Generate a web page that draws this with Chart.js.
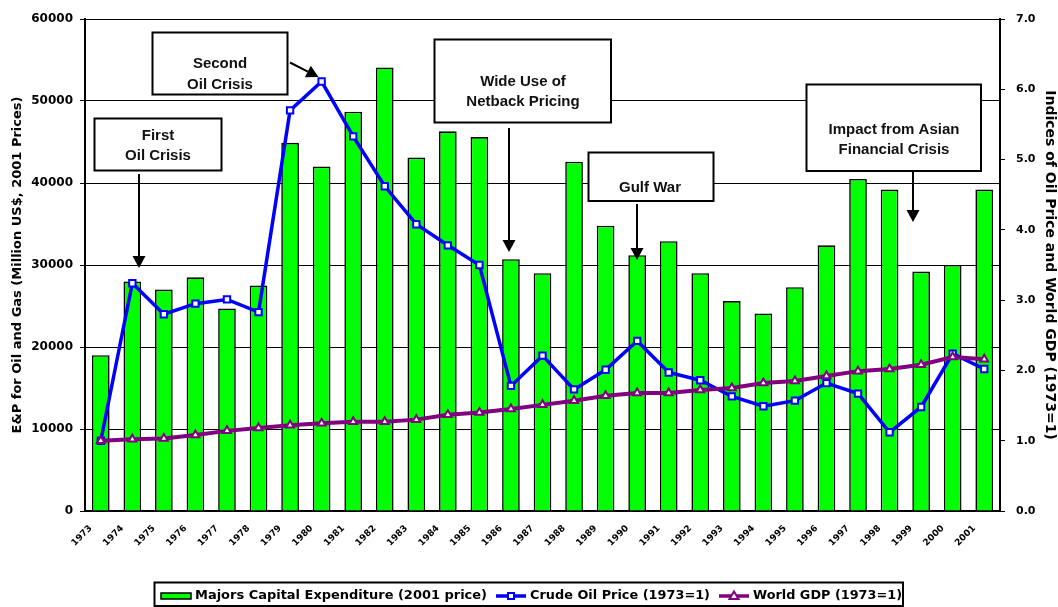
<!DOCTYPE html>
<html>
<head>
<meta charset="utf-8">
<script src="https://cdn.jsdelivr.net/npm/chart.js@4.4.1/dist/chart.umd.min.js"></script>
<style>
html,body{margin:0;padding:0;background:#ffffff;}
#c{display:block;}
</style>
</head>
<body>
<canvas id="c" width="1058" height="607"></canvas>
<script>
// ---------------- DATA ----------------
const years = ['1973','1974','1975','1976','1977','1978','1979','1980','1981','1982','1983','1984','1985','1986','1987','1988','1989','1990','1991','1992','1993','1994','1995','1996','1997','1998','1999','2000','2001'];
const capex = [19000,28000,27000,28500,24700,27500,44900,42000,48700,54100,43100,46300,45600,30700,29000,42600,34800,31200,32900,29000,25600,24100,27300,32400,40500,39200,29200,30000,39200];
const oilPrice = [1.00,3.24,2.80,2.95,3.01,2.83,5.70,6.11,5.33,4.62,4.08,3.78,3.50,1.78,2.21,1.73,2.01,2.42,1.97,1.86,1.63,1.49,1.57,1.82,1.67,1.12,1.48,2.24,2.02];
const worldGdp = [1.00,1.02,1.03,1.08,1.14,1.18,1.22,1.25,1.27,1.27,1.30,1.37,1.40,1.45,1.51,1.57,1.64,1.68,1.68,1.72,1.75,1.82,1.85,1.92,1.99,2.02,2.08,2.19,2.16];
const seriesNames = ['Majors Capital Expenditure (2001 price)','Crude Oil Price (1973=1)','World GDP (1973=1)'];
const leftTitle = 'E&P for Oil and Gas (Million US$, 2001 Prices)';
const rightTitle = 'Indices of Oil Price and World GDP (1973=1)';
const annotationTexts = [['First','Oil Crisis'],['Second','Oil Crisis'],['Wide Use of','Netback Pricing'],['Gulf War'],['Impact from Asian','Financial Crisis']];

// ---------------- LAYOUT (pixels) ----------------
const annotationLayout = [
  {box:[94.5,118.5,221.5,170.5], cx:158, ys:[136,155.5], arrow:[139,174,139,268]},
  {box:[152.5,32.5,287.5,94.5], cx:220, ys:[64,85], arrow:[290,62.5,318.5,77]},
  {box:[434.5,39.5,611,122.5], cx:523, ys:[82,102], arrow:[509,128,509,252]},
  {box:[588.5,152.5,713.5,201], cx:650, ys:[188], arrow:[637,204,637,260]},
  {box:[806.5,84.5,981,171], cx:894, ys:[130,149.5], arrow:[913,171,913,222]}
];

const GREEN = '#00FF00', BLUE = '#0000FF', PURPLE = '#800080';
const AXFONT = 'DejaVu Sans';

function drawArrow(ctx, x1, y1, x2, y2) {
  const dx = x2 - x1, dy = y2 - y1, len = Math.hypot(dx, dy);
  const ux = dx / len, uy = dy / len;
  const hl = 12, hw = 6.5;
  const bx = x2 - ux * hl, by = y2 - uy * hl;
  ctx.beginPath();
  ctx.moveTo(x1, y1);
  ctx.lineTo(bx, by);
  ctx.strokeStyle = '#000';
  ctx.lineWidth = 2;
  ctx.stroke();
  ctx.beginPath();
  ctx.moveTo(x2, y2);
  ctx.lineTo(bx - uy * hw, by + ux * hw);
  ctx.lineTo(bx + uy * hw, by - ux * hw);
  ctx.closePath();
  ctx.fillStyle = '#000';
  ctx.fill();
}

const annotationPlugin = {
  id: 'annots',
  afterDraw(chart) {
    const ctx = chart.ctx;
    ctx.save();
    annotationLayout.forEach((a, i) => {
      const [x1, y1, x2, y2] = a.box;
      ctx.fillStyle = '#fff';
      ctx.fillRect(x1, y1, x2 - x1, y2 - y1);
      ctx.strokeStyle = '#000';
      ctx.lineWidth = 2;
      ctx.strokeRect(x1, y1, x2 - x1, y2 - y1);
      ctx.fillStyle = '#111';
      ctx.font = 'bold 15px "Liberation Sans", Arial, sans-serif';
      ctx.textAlign = 'center';
      ctx.textBaseline = 'middle';
      annotationTexts[i].forEach((t, k) => ctx.fillText(t, a.cx, a.ys[k]));
      drawArrow(ctx, a.arrow[0], a.arrow[1], a.arrow[2], a.arrow[3]);
    });
    ctx.restore();
  }
};

const legendLayout = {box:[154.5,582.5,903,606], cy:596,
  items:[{sx:161, tx:195, tw:292},{sx:496, tx:530, tw:180},{sx:719, tx:753, tw:149}]};

const legendPlugin = {
  id: 'customLegend',
  afterDraw(chart) {
    const ctx = chart.ctx;
    const L = legendLayout;
    ctx.save();
    ctx.strokeStyle = '#000';
    ctx.lineWidth = 2;
    ctx.strokeRect(L.box[0], L.box[1], L.box[2] - L.box[0], L.box[3] - L.box[1]);
    const ds = chart.data.datasets;
    L.items.forEach((it, i) => {
      const cy = L.cy;
      if (i === 0) {
        ctx.fillStyle = ds[0].backgroundColor;
        ctx.fillRect(it.sx, cy - 3, 30, 6);
        ctx.strokeStyle = '#000';
        ctx.lineWidth = 1.5;
        ctx.strokeRect(it.sx, cy - 3, 30, 6);
      } else {
        const d = ds[i];
        ctx.beginPath();
        ctx.moveTo(it.sx, cy);
        ctx.lineTo(it.sx + 30, cy);
        ctx.strokeStyle = d.borderColor;
        ctx.lineWidth = 3.5;
        ctx.stroke();
        ctx.fillStyle = '#fff';
        ctx.strokeStyle = d.borderColor;
        ctx.lineWidth = 2;
        const mx = it.sx + 15;
        if (d.pointStyle === 'rect') {
          ctx.fillRect(mx - 3, cy - 3, 6, 6);
          ctx.strokeRect(mx - 3, cy - 3, 6, 6);
        } else {
          ctx.beginPath();
          ctx.moveTo(mx, cy - 4.5);
          ctx.lineTo(mx + 4.5, cy + 3);
          ctx.lineTo(mx - 4.5, cy + 3);
          ctx.closePath();
          ctx.fill();
          ctx.stroke();
        }
      }
      ctx.font = 'bold 12px "' + AXFONT + '", sans-serif';
      ctx.fillStyle = '#000';
      ctx.textAlign = 'left';
      ctx.textBaseline = 'middle';
      const w = ctx.measureText(seriesNames[i]).width;
      ctx.save();
      ctx.translate(it.tx, cy);
      ctx.scale(it.tw / w, 1);
      ctx.fillText(seriesNames[i], 0, 0);
      ctx.restore();
    });
    ctx.restore();
  }
};

const bgPlugin = {
  id: 'bg',
  beforeDraw(chart) {
    const ctx = chart.ctx;
    ctx.save();
    ctx.fillStyle = '#fff';
    ctx.fillRect(0, 0, chart.width, chart.height);
    ctx.restore();
  }
};

new Chart(document.getElementById('c'), {
  data: {
    labels: years,
    datasets: [
      {type:'bar', label: seriesNames[0], data: capex, yAxisID:'y', backgroundColor: GREEN,
       borderColor:'#000', borderWidth:1.6, barPercentage:0.56, categoryPercentage:1.0, order:3},
      {type:'line', label: seriesNames[1], data: oilPrice, yAxisID:'y1', borderColor: BLUE, borderWidth:3.5,
       pointStyle:'rect', pointRadius:4.5, pointBackgroundColor:'#fff', pointBorderColor: BLUE, pointBorderWidth:2,
       tension:0, fill:false, order:2},
      {type:'line', label: seriesNames[2], data: worldGdp, yAxisID:'y1', borderColor: PURPLE, borderWidth:4,
       pointStyle:'triangle', pointRadius:4.5, pointBackgroundColor:'#fff', pointBorderColor: PURPLE, pointBorderWidth:2,
       tension:0, fill:false, order:1}
    ]
  },
  options: {
    responsive:false,
    animation:false,
    devicePixelRatio:1,
    layout:{padding:{top:19,left:0,right:0,bottom:0}},
    plugins:{legend:{display:false}, tooltip:{enabled:false}, title:{display:false}},
    scales:{
      x:{
        offset:true,
        grid:{display:false, drawTicks:false},
        border:{display:true, color:'#000', width:2},
        ticks:{autoSkip:false, minRotation:45, maxRotation:45, padding:12, labelOffset:-10,
               color:'#000', font:{family:AXFONT, size:9, weight:'bold'}},
        afterFit(s){ s.height = 96; }
      },
      y:{
        position:'left', min:0, max:60000,
        ticks:{stepSize:10000, padding:7, color:'#000', font:{family:AXFONT, size:12, weight:'bold'},
               callback:(v)=>String(v)},
        grid:{color:'#000', lineWidth:1, tickLength:5, drawTicks:true},
        border:{display:true, color:'#000', width:2},
        title:{display:true, text:leftTitle, color:'#000', padding:{top:10,bottom:0},
               font:{family:AXFONT, size:13, weight:'bold'}},
        afterFit(s){ s.width = 85; }
      },
      y1:{
        position:'right', min:0, max:7,
        ticks:{stepSize:1, padding:11, color:'#000', font:{family:AXFONT, size:11, weight:'bold'},
               callback:(v)=>Number(v).toFixed(1)},
        grid:{drawOnChartArea:false, color:'#000', tickLength:5, drawTicks:true},
        border:{display:true, color:'#000', width:2},
        title:{display:true, text:rightTitle, color:'#000', padding:{top:0,bottom:0},
               font:{family:AXFONT, size:14, weight:'bold'}},
        afterFit(s){ s.width = 58; }
      }
    }
  },
  plugins:[bgPlugin, annotationPlugin, legendPlugin]
});
</script>
</body>
</html>
